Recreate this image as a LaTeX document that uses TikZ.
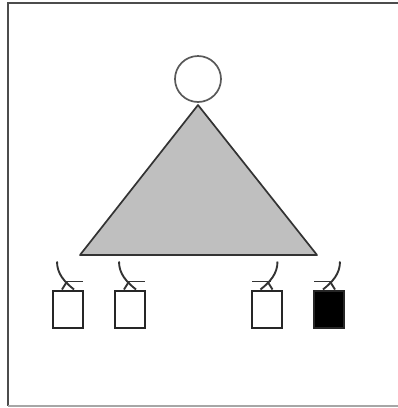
\documentclass[tikz,border=0pt]{standalone}
\begin{document}
\begin{tikzpicture}[x=1pt,y=-1pt,
  boxst/.style={draw=black!85,line width=2pt,minimum width=30pt,minimum height=37pt,inner sep=0pt,fill=white},
  ring/.style={draw=black!65,line width=1.7pt,circle,minimum size=46pt,inner sep=0pt},
  symline/.style={line width=1.9pt,draw=black!80},
  lsym/.pic={
    \draw[symline] (-11,-28) .. controls (-11,-16) and (-4,-8) .. (6,0);
    \draw[symline] (-1,-8) -- (-6,0);
    \draw[symline] (-4,-8) -- (15,-8);
  },
  rsym/.pic={
    \draw[symline] (11,-28) .. controls (11,-16) and (4,-8) .. (-6,0);
    \draw[symline] (1,-8) -- (6,0);
    \draw[symline] (4,-8) -- (-15,-8);
  }]
\useasboundingbox (0,0) rectangle (398,408);
\fill[white] (0,0) rectangle (398,408);
% frame
\draw[black!70,line width=2pt] (399,3) -- (8,3) -- (8,406);
\draw[black!35,line width=1.6pt] (8,406) -- (399,406);
% triangle
\coordinate (apex) at (198,105);
\coordinate (bl) at (80,255);
\coordinate (br) at (317,255);
\filldraw[fill=black!25,draw=black!80,line width=1.7pt,line join=round] (apex) -- (bl) -- (br) -- cycle;
% circle
\node[ring] (top) at (198,79) {};
% boxes
\node[boxst] (b1) at (68,309) {};
\node[boxst] (b2) at (130,309) {};
\node[boxst] (b3) at (266.5,309) {};
\node[boxst,fill=black] (b4) at (329,309) {};
% symbols
\pic at (b1.north) {lsym};
\pic at (b2.north) {lsym};
\pic at (b3.north) {rsym};
\pic at (b4.north) {rsym};
\end{tikzpicture}
\end{document}
